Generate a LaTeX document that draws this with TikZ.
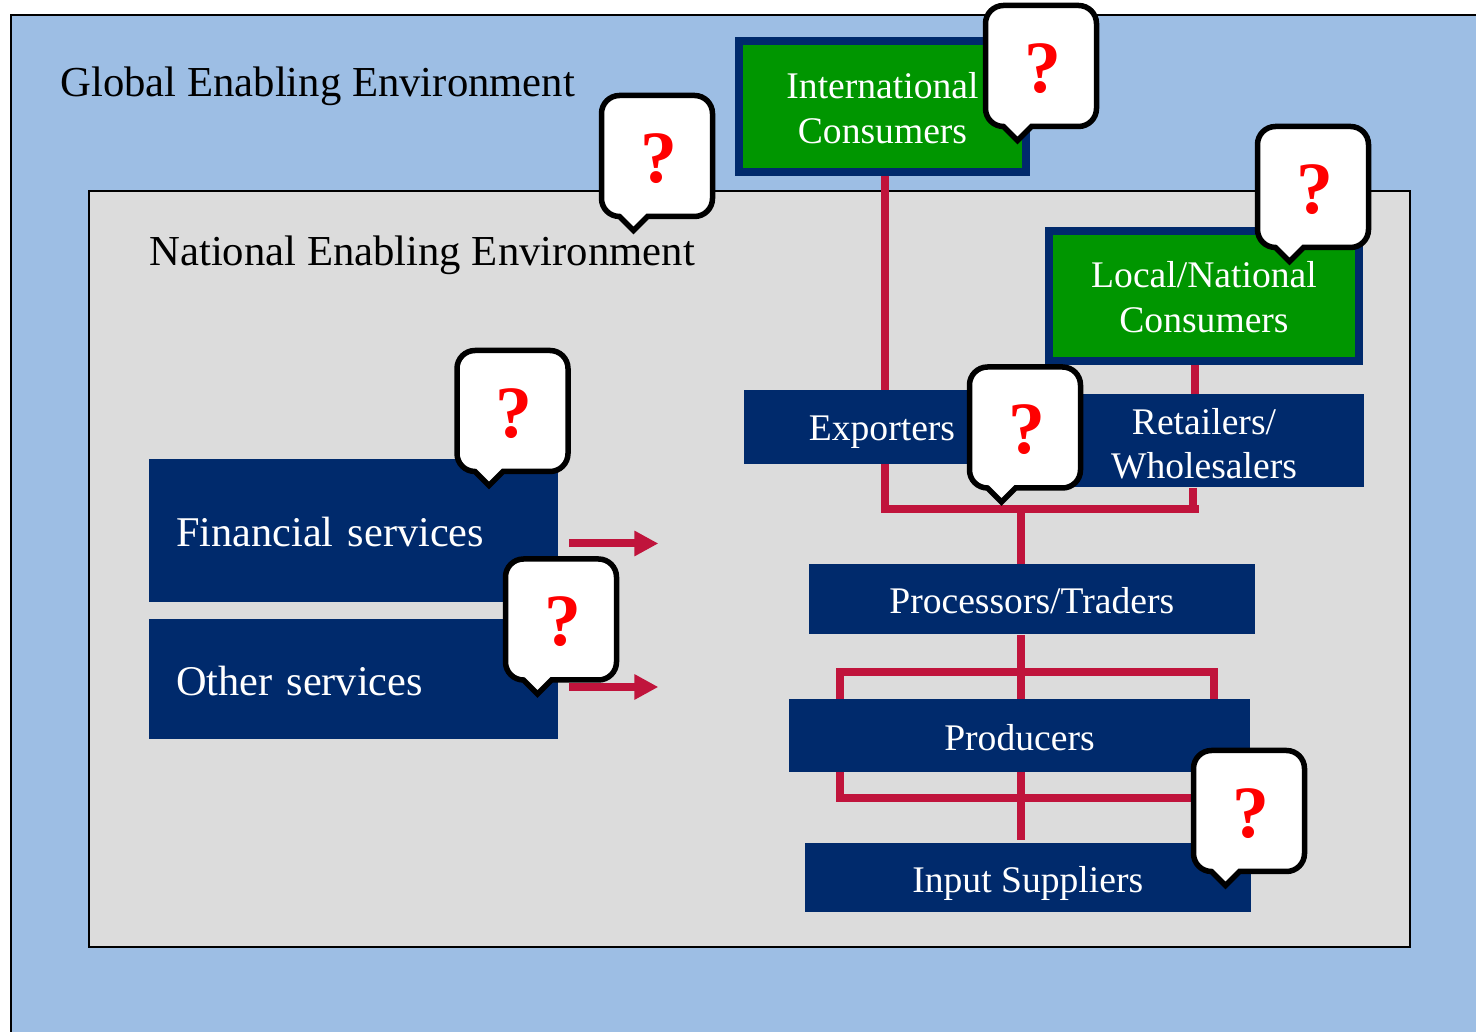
\documentclass[tikz,border=0pt]{standalone}
\usepackage{fontspec}
\setmainfont{Liberation Serif}
\usetikzlibrary{arrows.meta}
\definecolor{skyarea}{RGB}{157,190,228}
\definecolor{greyarea}{RGB}{220,220,220}
\definecolor{navybox}{RGB}{0,42,108}
\definecolor{greenbox}{RGB}{0,150,0}
\definecolor{linkred}{RGB}{192,20,60}
\tikzset{
	envlabel/.style={anchor=west, inner sep=0, font=\fontsize{24.3}{29}\selectfont},
	chainbox/.style={fill=navybox, text=white, inner sep=0, align=center, font=\fontsize{21.4}{25.5}\selectfont},
	buyerbox/.style={chainbox, fill=greenbox, draw=navybox, line width=0.16cm},
	servicebox/.style={fill=navybox, text=white, inner xsep=0.54cm, inner ysep=0, text width=7.1cm, align=left, minimum width=8.18cm, text height=18.8pt, font=\fontsize{24.1}{29}\selectfont},
	link/.style={draw=linkred, line width=0.16cm},
	servicearrow/.style={link, -{Triangle[length=0.48cm,width=0.48cm]}},
	askline/.style={draw=black, fill=white, line width=0.11cm},
	askmark/.style={inner sep=0, text=red, font=\fontsize{42}{42}\selectfont\bfseries}
}
\def\askbubble(#1)(#2){
	\begin{scope}[shift={(#1)}]
		\draw[askline] (-1.11,-0.85) -- (-1.11,0.85) arc (180:90:0.36) -- (0.75,1.21) arc (90:0:0.36) -- (1.11,-0.85) arc (0:-90:0.36) -- (-0.19,-1.21) -- (-0.47,-1.49) -- (-0.75,-1.21) arc (270:180:0.36) -- cycle;
		\node[askmark] (#2) at (0.03,-0.05) {?};
	\end{scope}
}

\begin{document}
\begin{tikzpicture}
	\clip (0,0) rectangle (29.52,20.64);
	%%%%% areas %%%%%
	\draw[fill=skyarea, line width=0.04cm] (0.22,20.34) rectangle (29.8,-0.3);
	\draw[fill=greyarea, line width=0.04cm] (1.78,16.82) rectangle (28.2,1.70);
	\node[envlabel] (globallabel) at (1.2,18.92) {Global Enabling Environment};
	\node[envlabel] (nationallabel) at (2.98,15.53) {National Enabling Environment};

	%%%%% boxes %%%%%
	\node[buyerbox, minimum width=5.74cm, minimum height=2.62cm, text height=42.4pt] (international) at (17.65,18.51) {International\\Consumers};
	\node[buyerbox, minimum width=6.2cm, minimum height=2.6cm, text height=41.8pt] (localbuyers) at (24.08,14.72) {Local/National\\Consumers};
	\node[chainbox, minimum width=5.52cm, minimum height=1.48cm, text height=19.9pt] (exporters) at (17.64,12.10) {Exporters};
	\node[chainbox, minimum width=6.4cm, minimum height=1.86cm, text height=43.5pt] (retailers) at (24.08,11.82) {Retailers/\\Wholesalers};
	\node[chainbox, minimum width=8.91cm, minimum height=1.41cm, text height=16.9pt] (processors) at (20.635,8.655) {Processors/Traders};
	\node[chainbox, minimum width=9.22cm, minimum height=1.46cm, text height=16.9pt] (producers) at (20.39,5.93) {Producers};
	\node[chainbox, minimum width=8.91cm, minimum height=1.39cm, text height=21.4pt] (inputs) at (20.555,3.085) {Input Suppliers};
	\node[servicebox, minimum height=2.86cm] (financial) at (7.07,10.03) {Financial services};
	\node[servicebox, minimum height=2.4cm] (otherserv) at (7.07,7.06) {Other services};

	%%%%% links %%%%%
	\coordinate (exportdrop) at (17.7,10.38);
	\coordinate (barleft) at (17.62,10.46);
	\coordinate (barright) at (23.98,10.46);
	\coordinate (retaildrop) at (23.86,10.46);
	\coordinate (localdrop) at (23.9,10.46);
	\coordinate (trunk) at (20.42,10.46);
	\coordinate (trunkend) at (20.42,3.84);
	\coordinate (loopleft) at (16.8,7.2);
	\coordinate (loopright) at (24.28,4.68);

	\draw[link] (international.south -| exportdrop) -- (exporters.north -| exportdrop);
	\draw[link] (exporters.south -| exportdrop) -- (exportdrop);
	\draw[link] (localbuyers.south -| localdrop) -- (retailers.north -| localdrop);
	\draw[link] (retailers.south -| retaildrop) -- (retaildrop);
	\draw[link] (barleft) -- (barright);
	\draw[link] (trunk) -- (processors.north -| trunk);
	\draw[link] (processors.south -| trunk) -- (producers.north -| trunk);
	\draw[link] (producers.south -| trunk) -- (trunkend);
	\draw[link] (producers.north -| loopleft) -- (loopleft) -- (loopleft -| loopright) -- (producers.north -| loopright);
	\draw[link] (producers.south -| loopleft) -- (loopleft |- loopright) -- (loopright) -- (producers.south -| loopright);
	\draw[servicearrow] ([shift={(0.22,-0.26)}]financial.east) -- ++(1.78,0);
	\draw[servicearrow] ([shift={(0.22,-0.16)}]otherserv.east) -- ++(1.78,0);

	%%%%% question bubbles %%%%%
	\askbubble(20.82,19.32)(askinternational)
	\askbubble(13.14,17.52)(asknational)
	\askbubble(26.26,16.90)(asklocal)
	\askbubble(10.25,12.42)(askfinancial)
	\askbubble(11.22,8.25)(askother)
	\askbubble(20.50,12.09)(askexporters)
	\askbubble(24.98,4.42)(askinputs)
\end{tikzpicture}
\end{document}
